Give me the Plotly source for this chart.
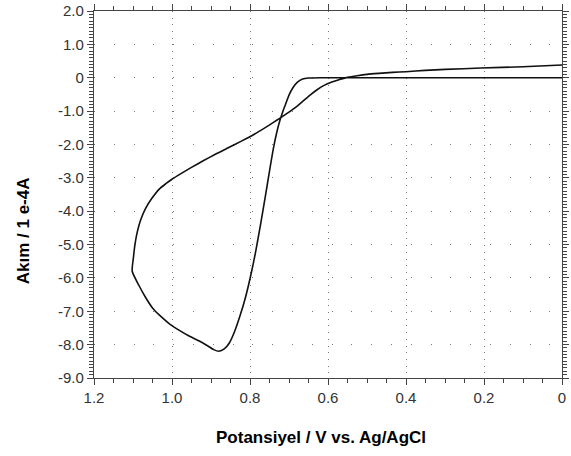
import plotly.graph_objects as go

# Potential (V vs. Ag/AgCl) and current (1e-4 A)
potential = [
    0.000, 0.300, 0.550, 0.620, 0.650, 0.665, 0.679, 0.690, 0.700, 0.709, 0.716,
    0.723, 0.731, 0.740, 0.750, 0.761, 0.773, 0.785, 0.798, 0.812, 0.826, 0.840,
    0.853, 0.866, 0.880, 0.893, 0.908, 0.930, 0.955, 0.980, 1.005, 1.030, 1.050,
    1.068, 1.085, 1.102,
    1.099, 1.095, 1.089, 1.080, 1.068, 1.052, 1.032, 1.015, 1.001, 0.975, 0.949,
    0.920, 0.890, 0.856, 0.822, 0.790, 0.763, 0.740, 0.723, 0.700, 0.679, 0.662,
    0.646, 0.628, 0.610, 0.590, 0.570, 0.550, 0.525, 0.500, 0.470, 0.435, 0.400,
    0.351, 0.300, 0.208, 0.100, 0.000,
]
current = [
    0.00, 0.00, 0.00, 0.00, -0.01, -0.04, -0.14, -0.30, -0.52, -0.80, -1.02,
    -1.27, -1.62, -2.12, -2.80, -3.58, -4.40, -5.18, -5.92, -6.60, -7.15, -7.62,
    -7.95, -8.13, -8.20, -8.15, -8.04, -7.89, -7.75, -7.58, -7.39, -7.14, -6.90,
    -6.58, -6.22, -5.80,
    -5.40, -5.00, -4.62, -4.25, -3.92, -3.62, -3.33, -3.17, -3.05, -2.86, -2.68,
    -2.49, -2.30, -2.10, -1.90, -1.70, -1.51, -1.34, -1.21, -1.03, -0.85, -0.68,
    -0.52, -0.36, -0.23, -0.13, -0.05, 0.01, 0.06, 0.10, 0.13, 0.16, 0.18,
    0.22, 0.25, 0.29, 0.33, 0.38,
]

x_tickvals = [1.2, 1.0, 0.8, 0.6, 0.4, 0.2, 0.0]
x_ticktext = ["1.2", "1.0", "0.8", "0.6", "0.4", "0.2", "0"]
y_tickvals = [2, 1, 0, -1, -2, -3, -4, -5, -6, -7, -8, -9]
y_ticktext = ["2.0", "1.0", "0", "-1.0", "-2.0", "-3.0", "-4.0", "-5.0",
              "-6.0", "-7.0", "-8.0", "-9.0"]

x_title = "Potansiyel / V vs. Ag/AgCl"
y_title = "Akım / 1 e-4A"

fig = go.Figure()
fig.add_trace(go.Scatter(
    x=potential, y=current, mode="lines",
    line=dict(color="#111111", width=1.6, shape="spline", smoothing=0.6),
    showlegend=False, hoverinfo="skip",
))

axis_font = dict(family="Liberation Sans, Arial, sans-serif", size=15, color="#333333")

fig.update_xaxes(
    range=[1.2, 0.0], autorange=False,
    tickmode="array", tickvals=x_tickvals, ticktext=x_ticktext,
    ticks="outside", ticklen=6, tickwidth=1, tickcolor="#444444",
    minor=dict(dtick=0.05, tick0=0, ticks="outside", ticklen=4,
               tickcolor="#444444", showgrid=False),
    showline=True, linecolor="#444444", linewidth=1.2, mirror="ticks",
    showgrid=True, gridcolor="#777777", gridwidth=1, griddash="1px,5.69px",
    zeroline=False, tickfont=axis_font,
)
fig.update_yaxes(
    range=[-9.0, 2.0], autorange=False,
    tickmode="array", tickvals=y_tickvals, ticktext=y_ticktext,
    ticks="outside", ticklen=6, tickwidth=1, tickcolor="#444444",
    minor=dict(dtick=0.1, tick0=0, ticks="outside", ticklen=4,
               tickcolor="#444444", showgrid=False),
    showline=True, linecolor="#444444", linewidth=1.2, mirror="ticks",
    showgrid=True, gridcolor="#777777", gridwidth=1, griddash="1px,18.8px",
    zeroline=False, tickfont=axis_font,
)

title_font = dict(family="Liberation Sans, Arial, sans-serif", size=17, color="#000000")
fig.add_annotation(text=f"<b>{x_title}</b>", xref="paper", yref="paper",
                   x=0.485, y=-0.163, showarrow=False, font=title_font,
                   xanchor="center", yanchor="middle")
fig.add_annotation(text=f"<b>{y_title}</b>", xref="paper", yref="paper",
                   x=-0.1516, y=0.40, showarrow=False, font=title_font,
                   textangle=-90, xanchor="center", yanchor="middle")

fig.update_layout(
    width=571, height=456,
    margin=dict(l=94, r=2, t=10, b=78),
    paper_bgcolor="white", plot_bgcolor="white",
)

fig.write_html("out.html")
